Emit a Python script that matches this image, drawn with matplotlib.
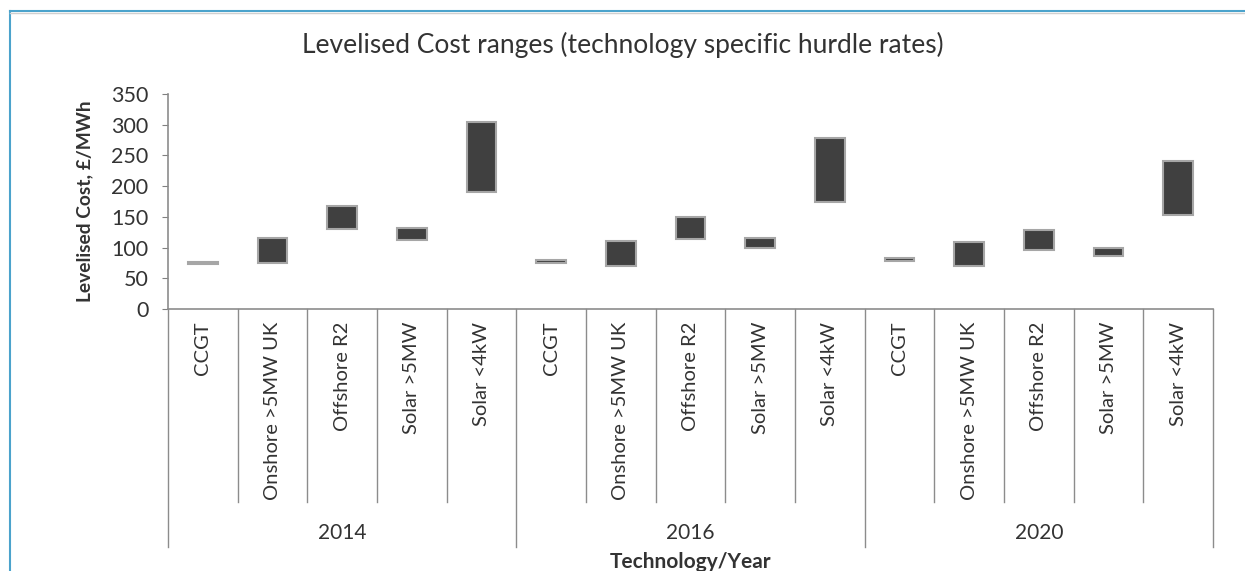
import numpy as np
import matplotlib.pyplot as plt
import matplotlib.transforms as mtransforms
from matplotlib.lines import Line2D

plt.rcParams['font.family'] = ['Lato', 'DejaVu Sans']

# 数据：各技术的平准化成本区间 (£/MWh)
years = ['2014', '2016', '2020']
technologies = ['CCGT', 'Onshore >5MW UK', 'Offshore R2', 'Solar >5MW', 'Solar <4kW']
low_2014 = [73, 75, 130, 112, 191]
high_2014 = [77, 115, 168, 132, 305]
low_2016 = [75, 70, 114, 99, 175]
high_2016 = [80, 111, 150, 116, 279]
low_2020 = [78, 70, 96, 86, 153]
high_2020 = [83, 109, 128, 100, 241]

lows = low_2014 + low_2016 + low_2020
highs = high_2014 + high_2016 + high_2020
labels = technologies * len(years)

W, H = 1245, 571
txt = '#333333'
fig = plt.figure(figsize=(W / 100, H / 100), dpi=100)
ax = fig.add_axes([168 / W, 262 / H, 1045 / W, 215 / H])

x = np.arange(len(labels))
ax.bar(x, np.array(highs) - np.array(lows), bottom=lows, width=0.43,
       color='#404040', edgecolor='#a6a6a6', linewidth=1.5, zorder=3)

ax.set_xlim(-0.5, len(labels) - 0.5)
ax.set_ylim(0, 350)
ax.set_yticks(np.arange(0, 351, 50))
ax.tick_params(axis='y', length=4, width=0.8, color='#808080', pad=10,
               labelsize=15.5, labelcolor=txt)
ax.set_xticks([])
for s in ['top', 'right']:
    ax.spines[s].set_visible(False)
for s in ['left', 'bottom']:
    ax.spines[s].set_color('#8c8c8c')
    ax.spines[s].set_linewidth(1.2)

fig.text(0.5, 1 - 45 / H, 'Levelised Cost ranges (technology specific hurdle rates)',
         ha='center', va='center', fontsize=19, color=txt)
ax.set_ylabel('Levelised Cost, £/MWh', fontsize=13.8, fontweight='bold', color=txt)
ax.yaxis.set_label_coords(-0.0718, 0.5)

# 多级类别轴
trans = mtransforms.blended_transform_factory(ax.transData, ax.transAxes)
for i, lab in enumerate(labels):
    ax.text(i, -0.06, lab, rotation=90, ha='center', va='top', fontsize=14.5,
            color=txt, transform=trans)
for b in np.arange(-0.5, len(labels), 1.0):
    group = int(round(b + 0.5)) % len(technologies) == 0
    y1 = -1.107 if group else -0.898
    ax.add_line(Line2D([b, b], [0, y1], transform=trans, color='#8c8c8c',
                       linewidth=1, clip_on=False))
for g, yr in enumerate(years):
    ax.text(g * len(technologies) + 2, -1.042, yr, ha='center', va='center',
            fontsize=15, color=txt, transform=trans)
ax.text(0.5, -1.177, 'Technology/Year', ha='center', va='center', fontsize=15,
        fontweight='bold', color=txt, transform=ax.transAxes)

# 外框
fig.add_artist(Line2D([10 / W, 10 / W], [0, 1 - 11 / H], color='#4ba3cc', linewidth=1.5))
fig.add_artist(Line2D([10 / W, 1], [1 - 11 / H, 1 - 11 / H], color='#4ba3cc', linewidth=1.5))
fig.add_artist(Line2D([10 / W, 1], [1 - 13 / H, 1 - 13 / H], color='#d0d0d0', linewidth=1))

fig.savefig('out.png', dpi=100)
